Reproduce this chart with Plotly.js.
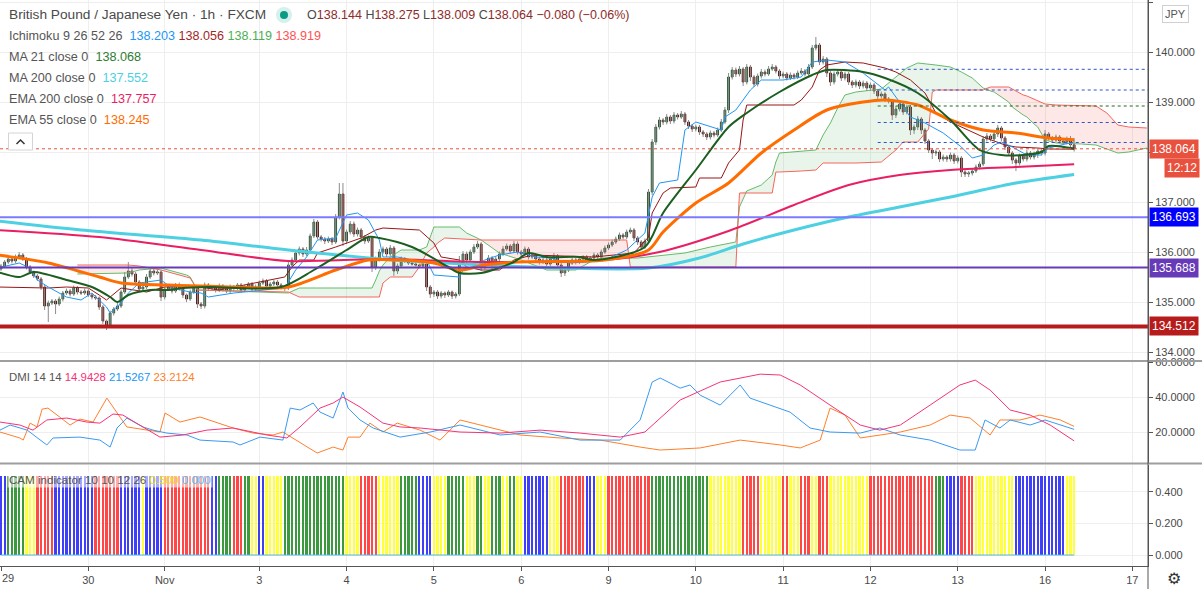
<!DOCTYPE html>
<html><head><meta charset="utf-8">
<script src="https://cdn.plot.ly/plotly-3.0.1.min.js"></script>
<style>html,body{margin:0;padding:0;background:#fff;overflow:hidden}#chart{width:1202px;height:589px;}</style>
</head><body><div id="chart"></div>
<script>
// ---------------- DATA ----------------
const dayTickIdx = [0,24,45,71,95,119,143,167,191,215,239,263,287,311];
const dayTickText = ["29","30","Nov","3","4","5","6","9","10","11","12","13","16","17"];
const priceTicks = [134,135,136,137,138,139,140,141];

const firstOpen = 135.66;
const closes = [
135.72,135.80,135.86,135.82,135.90,135.94,135.86,135.70,135.60,135.52,135.46,135.30,134.92,134.98,135.02,134.96,135.06,135.18,135.22,135.16,135.28,135.20,135.18,135.22,
135.14,135.10,135.08,134.90,134.62,134.52,134.78,134.86,134.92,135.20,135.50,135.62,135.56,135.40,135.26,135.30,135.50,135.62,135.58,135.60,135.10,135.26,135.30,135.22,
135.34,135.28,135.14,135.06,135.20,135.30,134.96,134.92,135.34,135.28,135.30,135.24,135.32,135.26,135.22,135.30,135.28,135.34,135.24,135.30,135.36,135.26,135.30,135.38,
135.42,135.32,135.36,135.40,135.34,135.30,135.28,135.74,135.84,135.98,136.06,135.96,136.04,136.32,136.60,136.30,136.26,136.22,136.26,136.20,136.70,137.16,136.22,136.40,
136.56,136.36,136.44,136.30,136.22,136.28,135.70,135.86,136.00,136.06,135.96,136.08,135.62,135.72,135.86,135.82,135.78,135.76,135.74,135.72,135.76,135.30,135.16,135.20,
135.12,135.18,135.14,135.20,135.12,135.16,135.78,135.96,135.84,136.00,136.10,136.16,135.70,135.78,135.88,135.72,135.86,135.96,136.06,136.12,136.02,136.16,136.00,135.96,
136.06,135.90,135.94,135.86,135.80,135.84,135.76,135.86,135.92,135.74,135.58,135.64,135.78,135.84,135.80,135.86,135.90,135.84,135.88,135.94,135.90,136.00,136.08,136.14,
136.20,136.26,136.34,136.30,136.40,136.44,136.28,136.20,136.10,136.22,137.20,138.20,138.50,138.64,138.60,138.70,138.62,138.74,138.70,138.76,138.60,138.52,138.46,138.50,
138.40,138.36,138.30,138.38,138.34,138.44,138.60,138.84,139.50,139.64,139.56,139.66,139.40,139.70,139.50,139.36,139.52,139.60,139.56,139.66,139.70,139.62,139.52,139.56,
139.48,139.54,139.50,139.58,139.62,139.56,139.70,140.08,140.14,139.80,139.86,139.58,139.40,139.56,139.60,139.48,139.56,139.40,139.34,139.40,139.32,139.38,139.28,139.34,
139.22,139.12,139.16,139.06,139.02,138.74,138.86,138.96,138.80,138.90,138.44,138.50,138.66,138.44,138.22,138.04,137.98,138.00,137.86,137.90,137.86,137.94,137.82,137.88,
137.60,137.56,137.58,137.62,137.70,137.76,138.26,138.32,138.26,138.36,138.48,138.28,138.10,137.98,137.84,137.78,137.92,137.86,137.98,137.90,137.96,138.02,137.98,138.36,
138.28,138.24,138.30,138.22,138.20,138.26,138.144,138.064];

// wick lengths beyond the body, in 0.01 JPY
const wickUp = [
4,4,5,4,5,6,4,4,4,3,4,4,4,5,4,4,5,4,5,4,5,4,4,5,
4,4,4,3,4,3,5,4,6,5,10,18,6,4,4,6,6,5,4,5,4,5,4,4,
4,5,4,3,5,4,4,4,5,4,4,4,5,4,4,5,4,4,4,5,4,4,5,5,
5,4,4,4,4,4,4,6,5,6,5,4,6,5,6,4,4,4,5,4,6,22,22,5,
6,5,5,4,4,5,4,5,6,5,4,6,4,5,5,4,4,3,3,3,4,4,4,4,
4,4,3,4,3,4,14,6,5,5,6,6,4,5,6,4,5,5,6,5,4,6,5,4,
5,4,4,4,4,4,4,5,6,4,4,5,5,4,4,4,4,4,4,5,4,5,5,5,
5,5,5,4,5,5,4,4,4,5,6,6,6,6,4,6,4,6,4,6,4,4,4,5,
4,4,4,5,4,5,6,6,8,6,5,6,4,6,4,4,5,6,5,6,6,4,4,5,
4,5,4,5,6,4,6,6,16,4,6,4,4,5,6,4,5,4,4,5,4,5,4,5,
4,4,5,4,4,4,6,6,4,5,4,5,6,4,4,4,4,5,4,5,4,5,4,5,
4,4,4,5,5,5,6,6,4,6,6,4,4,4,4,4,5,4,6,4,5,5,4,8,
4,4,5,4,4,5,6,13.1];
const wickDn = [
4,4,4,5,4,4,4,5,4,4,4,6,8,32,4,20,4,5,4,5,4,5,4,4,
4,5,4,6,6,8,4,5,4,4,4,4,5,5,6,4,4,4,5,4,8,5,4,5,
4,5,6,6,4,4,8,6,5,5,4,5,4,5,4,4,5,4,5,4,4,5,4,4,
4,5,4,4,5,5,6,4,5,4,5,6,4,5,4,5,5,6,4,6,4,5,10,6,
5,6,5,5,6,4,10,6,5,4,6,4,10,6,4,4,4,3,3,3,4,8,8,6,
6,5,6,4,6,5,4,5,6,4,4,4,8,5,4,6,4,4,4,4,5,4,5,6,
4,5,4,4,5,4,5,4,4,6,8,6,4,4,5,4,4,4,4,4,5,4,4,4,
4,4,4,5,4,4,6,6,6,4,4,6,6,5,6,5,6,5,5,4,6,6,6,5,
6,6,6,5,5,4,4,4,6,5,6,5,8,5,8,6,5,5,5,4,4,5,6,5,
5,4,5,4,4,5,4,4,5,6,5,8,8,5,5,6,5,6,6,5,6,5,6,5,
6,6,5,6,5,10,6,5,6,5,10,8,6,8,6,6,12,6,6,5,6,5,6,5,
10,6,6,5,4,5,4,5,5,4,6,6,6,6,8,16,5,5,5,5,5,8,5,5,
5,5,5,5,4,5,5,5.5];

// [bar index, value]
const ma200 = [[-1,136.62],[22,136.44],[55,136.24],[79,136.04],[108,135.84],[133,135.74],[154,135.68],[178,135.68],[192,135.88],[204,136.16],[218,136.44],[233,136.70],[247,136.90],[261,137.10],[279,137.38],[295,137.552]];
const ema200 = [[-1,136.44],[27,136.30],[55,136.04],[79,135.82],[105,135.86],[133,135.80],[166,135.84],[181,136.00],[200,136.42],[218,136.94],[233,137.34],[247,137.54],[261,137.64],[279,137.70],[295,137.757]];
const ema55 = [[-1,135.94],[13,135.78],[27,135.50],[33,135.38],[46,135.34],[64,135.30],[79,135.30],[92,135.64],[101,135.84],[110,135.84],[119,135.78],[126,135.64],[133,135.74],[142,135.80],[166,135.84],[178,136.04],[182,136.40],[191,136.98],[200,137.38],[209,137.98],[218,138.44],[227,138.84],[237,139.00],[243,139.04],[252,138.94],[261,138.64],[270,138.44],[279,138.38],[288,138.28],[295,138.245]];
const ma21 = [[-1,135.60],[5,135.50],[9,135.60],[18,135.44],[25,135.30],[30,135.10],[32,135.00],[35,135.14],[41,135.24],[46,135.24],[50,135.28],[57,135.30],[77,135.30],[86,135.64],[95,136.04],[101,136.30],[104,136.28],[113,136.10],[123,135.70],[126,135.58],[132,135.58],[141,135.80],[145,135.98],[150,135.90],[159,135.90],[163,135.84],[177,136.10],[182,136.78],[191,137.64],[200,138.50],[205,138.78],[214,139.20],[223,139.54],[227,139.64],[237,139.60],[243,139.48],[252,139.18],[261,138.64],[269,138.04],[275,137.94],[281,137.94],[286,138.00],[288,138.12],[295,138.068]];
const conversion = [[-1,135.68],[5,135.78],[8,135.68],[10,135.44],[13,135.30],[18,135.10],[22,135.04],[25,135.18],[29,134.90],[30,134.78],[33,134.98],[35,135.18],[38,135.38],[44,135.44],[47,135.28],[52,135.20],[55,135.18],[57,135.10],[64,135.18],[73,135.24],[78,135.28],[81,135.64],[84,135.90],[87,136.24],[92,136.28],[95,136.74],[98,136.78],[101,136.64],[104,136.24],[105,135.90],[109,135.90],[113,135.84],[117,135.84],[119,135.54],[126,135.50],[127,135.64],[130,135.70],[133,135.84],[137,135.94],[142,136.00],[147,135.90],[151,135.88],[156,135.78],[161,135.80],[166,135.84],[172,136.04],[177,136.38],[179,137.10],[181,137.38],[186,137.44],[188,138.44],[191,138.60],[195,138.50],[198,138.44],[199,138.70],[202,138.84],[206,139.24],[209,139.44],[215,139.44],[220,139.50],[223,139.80],[227,139.84],[232,139.80],[237,139.58],[243,139.24],[244,139.30],[250,138.70],[254,138.58],[259,138.38],[264,138.10],[267,137.88],[270,137.94],[273,138.14],[275,138.20],[278,138.10],[282,137.94],[286,137.94],[288,138.08],[295,138.203]];
const baseLine = [[-1,135.30],[13,135.28],[18,135.30],[24,135.28],[27,135.14],[29,135.04],[33,135.28],[40,135.20],[45,135.30],[53,135.32],[60,135.24],[78,135.50],[80,135.70],[82,135.84],[86,135.84],[87,135.98],[92,136.10],[99,136.28],[103,136.44],[105,136.48],[115,136.44],[119,136.18],[121,135.90],[126,135.84],[128,135.70],[132,135.64],[137,135.64],[141,135.84],[146,135.94],[159,135.90],[163,135.90],[174,135.98],[178,136.30],[179,136.78],[182,137.18],[184,137.28],[191,137.30],[192,137.48],[198,137.48],[200,137.78],[203,138.04],[204,138.64],[205,138.94],[218,138.94],[220,139.04],[223,139.30],[225,139.64],[227,139.74],[232,139.80],[237,139.78],[243,139.68],[246,139.60],[250,139.44],[254,139.18],[257,138.78],[261,138.60],[264,138.50],[270,138.30],[276,138.14],[279,138.10],[285,138.08],[288,138.06],[295,138.056]];
// [bar index, lead 1 (A), lead 2 (B)]  (already displaced 26 bars forward)
const spans = [[21,135.56,135.74],[35,135.58,135.74],[38,135.64,135.72],[44,135.68,135.64],[51,135.54,135.50],[52,135.50,135.48],[54,135.24,135.24],[79,135.18,135.20],[82,135.28,135.10],[102,135.28,135.10],[103,135.44,135.10],[104,135.62,135.10],[105,135.74,135.38],[107,135.90,135.50],[110,136.04,135.50],[113,136.04,135.50],[115,136.04,135.70],[117,136.10,135.98],[119,136.50,136.10],[120,136.50,136.18],[122,136.50,136.28],[126,136.50,136.26],[128,136.38,136.26],[132,136.24,136.24],[137,135.98,136.24],[143,135.84,136.24],[150,135.64,136.24],[158,135.64,136.24],[162,135.80,136.24],[165,135.88,136.24],[172,135.88,136.24],[173,135.88,135.70],[175,135.88,135.70],[188,135.98,135.70],[195,136.10,135.70],[202,136.20,135.70],[203,136.90,137.18],[205,137.22,137.18],[209,137.34,137.18],[212,137.54,137.18],[213,137.80,137.60],[214,137.98,137.60],[220,138.02,137.62],[224,138.04,137.64],[226,138.34,137.78],[228,138.58,137.78],[230,138.88,137.78],[232,139.14,137.78],[235,139.20,137.78],[242,139.26,137.80],[245,139.44,137.98],[246,139.50,138.04],[248,139.62,138.20],[249,139.68,138.20],[252,139.78,138.20],[255,139.76,138.46],[256,139.76,139.20],[257,139.74,139.24],[261,139.70,139.24],[264,139.60,139.24],[267,139.48,139.24],[270,139.28,139.24],[272,139.22,139.30],[273,139.20,139.30],[277,139.00,139.30],[278,138.90,139.26],[281,138.74,139.14],[282,138.70,139.12],[284,138.56,139.06],[285,138.50,139.02],[287,138.24,138.96],[290,138.18,138.94],[297,138.16,138.92],[301,138.14,138.92],[304,138.06,138.78],[307,137.98,138.54],[310,138.00,138.50],[315,138.08,138.48]];

const levels = [136.693, 135.688, 134.512];
const dotLevels = [139.654, 139.24, 138.92, 138.59, 138.19];
const dotLevelStart = 241;
const lastPrice = 138.064;
const countdown = "12:12";

const dmiAdx = [[-0.3,25.7],[5.2,24.0],[8.8,21.1],[12.6,26.9],[18.1,28.0],[23.6,25.7],[27.2,25.1],[30.8,30.3],[33.5,29.7],[38.2,24.0],[43.7,17.1],[50,18.3],[56.6,21.1],[63.8,22.3],[69.3,20.0],[73.1,18.3],[78.6,16.6],[82.2,22.9],[87.7,33.7],[91.3,36.6],[94,40.0],[98.7,34.3],[105,25.1],[109.7,22.9],[115.2,22.3],[126.2,20.0],[137.2,19.4],[148.2,21.1],[159.2,19.4],[170.2,17.1],[177,20.0],[186.7,38.3],[197.7,48.6],[208.7,53.1],[214.2,52.6],[219.7,46.9],[227.9,35.4],[236.2,24.0],[241.6,21.1],[247.2,24.0],[255.4,35.4],[263.6,46.9],[267.8,49.7],[271.9,44.0],[277.4,32.6],[282.9,29.7],[288.4,24.0],[295,14.9428]];
const dmiPlus = [[-0.3,21.1],[2.5,24.0],[7.2,21.1],[12.6,12.6],[14.3,16.6],[21.7,17.1],[27.2,15.4],[30,11.4],[31.9,22.3],[34.6,28.0],[39,22.9],[41.8,21.1],[45.6,19.4],[51.1,18.3],[54.7,15.4],[63.8,14.3],[65.7,12.6],[71.2,17.1],[77.5,15.4],[79.5,33.7],[82.2,32.6],[85.8,36.6],[87.7,31.4],[91.3,28.0],[94,42.9],[95.4,33.7],[98.7,26.9],[102.3,22.3],[109.7,17.1],[118,20.0],[126.2,24.0],[137.2,18.3],[148.2,20.0],[159.2,15.4],[170.2,15.4],[175.7,26.9],[179,48.6],[181.2,50.9],[186.7,45.1],[189.4,46.9],[192.2,41.1],[197.7,35.4],[203.2,46.9],[205.9,39.4],[211.4,35.4],[216.9,31.4],[222.4,22.3],[227.9,20.0],[236.2,19.4],[241.6,22.3],[247.2,18.3],[255.4,15.4],[263.6,9.7],[267.8,9.7],[270.5,26.9],[274.6,22.3],[277.4,26.9],[282.9,24.0],[287,26.9],[291.2,24.0],[295,21.5267]];
const dmiMinus = [[-0.3,20.0],[5.2,16.6],[6.1,15.4],[8,25.1],[9.9,22.9],[11.3,33.1],[12.9,33.7],[16.2,28.6],[19,24.0],[21.7,27.4],[25.3,25.7],[29.1,39.4],[31.9,30.9],[34.6,22.9],[43.7,20.0],[45.1,30.9],[49.2,25.7],[54.7,28.6],[63.8,22.3],[69.3,19.4],[74.8,18.3],[77.5,20.0],[86.9,8.0],[91.3,11.4],[94,9.7],[95.4,17.1],[98.7,17.1],[101.4,25.1],[105,20.0],[108.9,25.1],[115.2,21.1],[120.7,15.4],[126.2,26.9],[131.7,24.0],[142.7,18.3],[153.7,16.6],[164.7,15.4],[175.7,11.4],[181.2,9.7],[192.2,10.9],[203.2,15.4],[214.2,12.6],[219.7,10.9],[225.2,15.4],[227.9,33.7],[232,29.7],[236.2,16.6],[247.2,20.0],[255.4,24.0],[260.9,29.7],[266.4,28.0],[271.9,18.3],[274.6,26.9],[280.1,26.9],[285.6,29.7],[291.2,26.9],[295,23.2124]];

// CAM indicator state per bar (B blue, G green, R red, Y yellow), one group per day
const camStates = ("BBGGGGGYYYRRRRRBBBBBBBBB BBRRRRRRRBBBBBBYBBBBBRRR RRRRRRRRRRBBGGGGRRRGGYYB BYYYYYGGGGGGGGGGGGGGGGGY " +
  "YYYRRRRRYYYYYYGGGGGBBBBY YYYGGGGGYYYGGYYGGGYYGGYY BBBBBBBYYYRRRRRRRBBBYYYR RRRRRRRRRRRGGGGGGGGGGGGG " +
  "GGGYYYYYYYYYRRRRRYYYYYYR RYYYRRRYYRRRYYYYYYYYYYYR RRRRRRRRRRRRRRRRRGGGBBBB RRRRYYYYYYYYYYYBBBBBBBBB BBBBBYYY").replace(/ /g,"");
const camLevel = 0.5;
const camZero = 0.0;

// ---------------- DRAWING ----------------
const FONT = '"Trebuchet MS","Liberation Sans",Arial,sans-serif';
const W = 1148, H = 566;
const px = x => x / W;
const py = y => (H - y) / H;

const N = closes.length;
const idx = closes.map((c, i) => i);
const opens = closes.map((c, i) => i === 0 ? firstOpen : closes[i - 1]);
const highs = closes.map((c, i) => Math.max(opens[i], c) + wickUp[i] / 100);
const lows = closes.map((c, i) => Math.min(opens[i], c) - wickDn[i] / 100);

const wx = [], wy = [];
for (let i = 0; i < N; i++) { wx.push(i, i, null); wy.push(lows[i], highs[i], null); }

const line = (pairs, color, width, shape, yaxis) => ({
  type: 'scatter', mode: 'lines', x: pairs.map(p => p[0]), y: pairs.map(p => p[1]),
  xaxis: 'x', yaxis: yaxis || 'y', line: { color: color, width: width, shape: shape || 'linear', smoothing: 0.8 },
  hoverinfo: 'skip', showlegend: false
});

const sx = spans.map(s => s[0]);
const sA = spans.map(s => s[1]);
const sB = spans.map(s => s[2]);
const sMax = spans.map(s => Math.max(s[1], s[2]));

const traces = [];
traces.push({ type: 'scatter', mode: 'lines', x: sx, y: sB, line: { width: 0 }, hoverinfo: 'skip', showlegend: false });
traces.push({ type: 'scatter', mode: 'lines', x: sx, y: sMax, fill: 'tonexty', fillcolor: 'rgba(76,175,80,0.12)', line: { width: 0 }, hoverinfo: 'skip', showlegend: false });
traces.push({ type: 'scatter', mode: 'lines', x: sx, y: sA, line: { width: 0 }, hoverinfo: 'skip', showlegend: false });
traces.push({ type: 'scatter', mode: 'lines', x: sx, y: sMax, fill: 'tonexty', fillcolor: 'rgba(244,67,54,0.12)', line: { width: 0 }, hoverinfo: 'skip', showlegend: false });
traces.push(line(spans.map(s => [s[0], s[1]]), '#66bb6a', 1));
traces.push(line(spans.map(s => [s[0], s[2]]), '#f4665c', 1));
traces.push({ type: 'scatter', mode: 'lines', x: wx, y: wy, line: { color: '#8c8c8c', width: 1 }, hoverinfo: 'skip', showlegend: false, connectgaps: false });
traces.push({
  type: 'candlestick', x: idx, open: opens, close: closes,
  high: closes.map((c, i) => Math.max(opens[i], c)), low: closes.map((c, i) => Math.min(opens[i], c)),
  increasing: { line: { color: '#24502f', width: 1 }, fillcolor: '#4e8a5c' },
  decreasing: { line: { color: '#4f1612', width: 1 }, fillcolor: '#b2392e' },
  whiskerwidth: 0, hoverinfo: 'skip', showlegend: false, xaxis: 'x', yaxis: 'y'
});
traces.push(line(baseLine, '#991515', 1));
traces.push(line(conversion, '#2196f3', 1));
traces.push(line(ma200, '#4dd0e1', 3, 'spline'));
traces.push(line(ema200, '#e91e63', 2, 'spline'));
traces.push(line(ema55, '#ff6d00', 3, 'spline'));
traces.push(line(ma21, '#1b5e20', 2, 'spline'));
traces.push(line(dmiMinus, '#ff7f2a', 1, 'linear', 'y2'));
traces.push(line(dmiPlus, '#3a9af2', 1, 'linear', 'y2'));
traces.push(line(dmiAdx, '#f5337a', 1, 'linear', 'y2'));
const camColorMap = { B: '#3f3ff8', G: '#3d9940', R: '#ff4747', Y: '#ffff3a' };
const camArr = camStates.split('');
traces.push({
  type: 'bar', x: camArr.map((c, i) => i), y: camArr.map(() => camLevel), base: 0,
  marker: { color: camArr.map(c => camColorMap[c]), line: { width: 0 } }, width: 0.62,
  xaxis: 'x', yaxis: 'y3', hoverinfo: 'skip', showlegend: false
});
traces.push({ type: 'scatter', mode: 'lines', x: [0, camArr.length - 1], y: [camZero, camZero], xaxis: 'x', yaxis: 'y3',
  line: { color: '#4fb8e8', width: 1 }, hoverinfo: 'skip', showlegend: false });

const axisFont = { family: FONT, size: 11, color: '#4a4a4a' };
const yCommon = { side: 'right', anchor: 'x', showline: true, linecolor: '#555', linewidth: 1, ticks: 'outside', ticklen: 4,
  tickcolor: '#555', tickfont: axisFont, gridcolor: '#eeeeee', zeroline: false, fixedrange: true };

const shapes = [];
const levelStyles = [{ c: '#7b7bff', w: 2 }, { c: '#673ab7', w: 2 }, { c: '#b71c1c', w: 4 }];
levels.forEach((lv, k) => shapes.push({ type: 'line', xref: 'paper', yref: 'y', x0: 0, x1: 1, y0: lv, y1: lv,
  line: { color: levelStyles[k].c, width: levelStyles[k].w }, layer: 'above' }));
const dotColors = ['#2f55c8', '#2f55c8', '#1e6b1e', '#2f55c8', '#2f55c8'];
dotLevels.forEach((lv, k) => shapes.push({ type: 'line', xref: 'x', yref: 'y', x0: dotLevelStart, x1: 315.3, y0: lv, y1: lv,
  line: { color: dotColors[k], width: 1, dash: 'dot' }, layer: 'above' }));
shapes.push({ type: 'line', xref: 'paper', yref: 'y', x0: 0, x1: 1, y0: lastPrice, y1: lastPrice, line: { color: '#e8513e', width: 1, dash: 'dot' }, layer: 'above' });
shapes.push({ type: 'line', xref: 'paper', yref: 'paper', x0: 0, x1: 1202 / W, y0: py(361), y1: py(361), line: { color: '#9e9e9e', width: 2 } });
shapes.push({ type: 'line', xref: 'paper', yref: 'paper', x0: 0, x1: 1202 / W, y0: py(463.5), y1: py(463.5), line: { color: '#9e9e9e', width: 2 } });
shapes.push({ type: 'line', xref: 'paper', yref: 'paper', x0: 1, x1: 1, y0: py(589), y1: 1, line: { color: '#555', width: 1 } });
shapes.push({ type: 'circle', xref: 'paper', yref: 'paper', x0: px(276), x1: px(292), y0: py(23), y1: py(7), fillcolor: '#d6f0eb', line: { width: 0 } });
shapes.push({ type: 'circle', xref: 'paper', yref: 'paper', x0: px(280), x1: px(288), y0: py(19), y1: py(11), fillcolor: '#0b9a84', line: { width: 0 } });
shapes.push({ type: 'rect', xref: 'paper', yref: 'paper', x0: px(8.5), x1: px(32.5), y0: py(150), y1: py(133), fillcolor: '#ffffff', line: { color: '#d4d4d4', width: 1 } });
shapes.push({ type: 'path', xref: 'paper', yref: 'paper', path: `M${px(16.5)},${py(144)} L${px(20.5)},${py(140)} L${px(24.5)},${py(144)}`, line: { color: '#333', width: 1.5 } });

const ann = [];
const txt = (x, y, text, size, color, extra) => Object.assign({ xref: 'paper', yref: 'paper', x: px(x), y: py(y), xanchor: 'left', yanchor: 'middle',
  text: text, showarrow: false, font: { family: FONT, size: size, color: color } }, extra || {});
const sp = (c, t) => `<span style="color:${c}">${t}</span>`;
const dr = '#8e2b2b';
ann.push(txt(7, 15, 'British Pound / Japanese Yen · 1h · FXCM', 13.7, '#4a4a4a'));
ann.push(txt(305, 15, 'O' + sp(dr, '138.144') + ' H' + sp(dr, '138.275') + ' L' + sp(dr, '138.009') + ' C' + sp(dr, '138.064') + ' ' + sp(dr, '−0.080 (−0.06%)'), 12.5, '#4a4a4a'));
ann.push(txt(7, 36, 'Ichimoku 9 26 52 26 \u00a0' + sp('#2196f3', '138.203') + ' ' + sp('#a32626', '138.056') + ' ' + sp('#4caf50', '138.119') + ' ' + sp('#ff5252', '138.919'), 12.6, '#555'));
ann.push(txt(7, 57, 'MA 21 close 0 \u00a0' + sp('#2e7d32', '138.068'), 12.65, '#555'));
ann.push(txt(7, 78, 'MA 200 close 0 \u00a0' + sp('#4dd0e1', '137.552'), 12.65, '#555'));
ann.push(txt(7, 99, 'EMA 200 close 0 \u00a0' + sp('#e91e63', '137.757'), 12.65, '#555'));
ann.push(txt(7, 120, 'EMA 55 close 0 \u00a0' + sp('#ff6d00', '138.245'), 12.65, '#555'));
ann.push(txt(7, 377, 'DMI 14 14 ' + sp('#f5337a', '14.9428') + ' ' + sp('#2196f3', '21.5267') + ' ' + sp('#ff7f2a', '23.2124'), 11.4, '#555'));
ann.push(txt(7, 479, 'CAM indicator 10 10 12 26 ' + sp('#f0e000', '0.500') + ' ' + sp('#4fc3f7', '0.000'), 11.6, '#555',
  { bgcolor: 'rgba(255,255,255,0.55)', borderpad: 1 }));
const tag = (y, text, bg, extra) => Object.assign({ xref: 'paper', yref: 'y', x: 1, y: y, xanchor: 'left', yanchor: 'middle', text: text,
  showarrow: false, bgcolor: bg, borderpad: 2, font: { family: FONT, size: 12, color: '#ffffff' } }, extra || {});
ann.push(tag(lastPrice, lastPrice.toFixed(3), '#e8513e', { xshift: 1 }));
ann.push(tag(lastPrice, countdown, '#e8513e', { x: 1200 / W, xanchor: 'right', yshift: -19 }));
const tagColors = ['#0000ff', '#673ab7', '#b71c1c'];
levels.forEach((lv, k) => ann.push(tag(lv, lv.toFixed(3), tagColors[k], { xshift: 1 })));
ann.push(txt(1162, 14, 'JPY', 11, '#555', { bgcolor: '#ffffff', bordercolor: '#d0d0d0', borderwidth: 1, borderpad: 2 }));
ann.push(txt(1165, 578, '⚙', 16, '#333'));
// first day label, kept inside the left edge
ann.push(txt(0, 578, dayTickText[0], 11, '#4a4a4a'));

const layout = {
  width: 1202, height: 589, margin: { l: 0, r: 54, t: 0, b: 23, pad: 0 },
  paper_bgcolor: '#ffffff', plot_bgcolor: '#ffffff', showlegend: false, bargap: 0,
  font: { family: FONT },
  xaxis: { domain: [0, 1], range: [-0.275, 315.3], anchor: 'y3', tickmode: 'array', tickvals: dayTickIdx,
    ticktext: dayTickText.map((t, k) => k === 0 ? '' : t),
    showgrid: true, gridcolor: '#eeeeee', zeroline: false, showline: true, linecolor: '#555', ticks: 'outside', ticklen: 4,
    tickcolor: '#555', tickfont: axisFont, rangeslider: { visible: false }, fixedrange: true },
  yaxis: Object.assign({}, yCommon, { domain: [py(360), 1], range: [133.84, 141.04], tickmode: 'array',
    tickvals: priceTicks, ticktext: priceTicks.map(v => Math.abs(v - lastPrice) < 0.3 ? '' : v.toFixed(3)) }),
  yaxis2: Object.assign({}, yCommon, { domain: [py(463), py(362)], range: [2.29, 60.05], tickmode: 'array', tickvals: [20, 40, 60], tickformat: '.4f' }),
  yaxis3: Object.assign({}, yCommon, { domain: [0, py(465)], range: [-0.0698, 0.571], tickmode: 'array', tickvals: [0, 0.2, 0.4], tickformat: '.3f' }),
  shapes: shapes, annotations: ann
};
Plotly.newPlot('chart', traces, layout, { displayModeBar: false, staticPlot: true });
</script></body></html>
